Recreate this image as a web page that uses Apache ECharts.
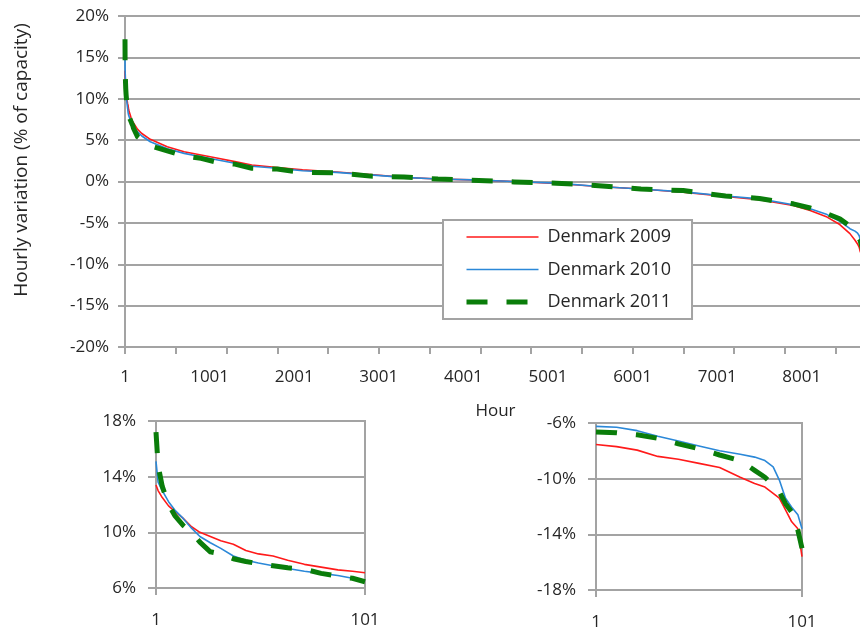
<!DOCTYPE html>
<html><head><meta charset="utf-8">
<script src="https://cdn.jsdelivr.net/npm/echarts@6/dist/echarts.min.js"></script>
<style>html,body{margin:0;padding:0;background:#fff}#c{width:860px;height:627px}</style>
</head><body><div id="c"></div><script>
// ---------------- data ----------------
const seriesNames = ['Denmark 2009', 'Denmark 2010', 'Denmark 2011'];

// first 101 hours of the duration curve (left inset)
const headHours = [1, 2, 4, 7, 10, 14, 18, 22, 27, 32, 38, 44, 50, 57, 64, 72, 80, 88, 95, 101];
const head2009 = [13.4, 13.0, 12.5, 11.9, 11.5, 11.0, 10.4, 10.0, 9.7, 9.4, 9.15, 8.7, 8.45, 8.3, 8.0, 7.7, 7.5, 7.3, 7.2, 7.1];
const head2010 = [15.1, 13.6, 13.0, 12.2, 11.6, 11.0, 10.3, 9.7, 9.25, 8.85, 8.3, 8.0, 7.8, 7.6, 7.4, 7.2, 7.05, 6.9, 6.7, 6.5];
const head2011 = [17.2, 14.8, 13.3, 12.0, 11.2, 10.5, 10.0, 9.3, 8.6, 8.45, 8.1, 7.9, 7.75, 7.6, 7.45, 7.35, 7.05, 6.85, 6.7, 6.45];

// middle of the duration curve (main chart)
const bodyHours = [150, 200, 300, 500, 700, 900, 1100, 1300, 1500, 1800, 2100, 2500, 2900, 3300, 3700, 4100, 4600, 5100, 5600, 6100, 6600, 7100, 7500, 7900, 8100, 8300, 8450, 8570, 8630];
const body2009 = [6.3, 5.8, 5.1, 4.2, 3.6, 3.2, 2.8, 2.4, 2.0, 1.7, 1.4, 1.15, 0.85, 0.5, 0.3, 0.2, 0.0, -0.25, -0.6, -0.9, -1.3, -1.8, -2.2, -2.9, -3.5, -4.3, -5.2, -6.3, -7.1];
const body2010 = [6.0, 5.5, 4.8, 3.95, 3.4, 3.0, 2.6, 2.2, 1.85, 1.6, 1.3, 1.1, 0.8, 0.5, 0.3, 0.2, 0.0, -0.2, -0.6, -0.9, -1.25, -1.75, -2.1, -2.8, -3.3, -4.0, -4.8, -5.7, -6.0];
const body2011 = [5.4, 5.0, 4.3, 3.7, 3.1, 2.8, 2.3, 2.1, 1.6, 1.5, 1.1, 1.05, 0.65, 0.55, 0.3, 0.15, -0.05, -0.2, -0.5, -0.9, -1.1, -1.75, -2.05, -2.7, -3.2, -3.9, -4.5, -5.4, -6.2];

// last 101 hours of the duration curve (right inset), ranked 1..101
const tailRank = [1, 11, 21, 31, 41, 51, 61, 71, 78, 83, 87, 90, 93, 96, 99, 101];
const tail2009 = [-7.55, -7.7, -7.95, -8.4, -8.6, -8.9, -9.2, -9.9, -10.35, -10.6, -11.05, -11.4, -12.25, -13.1, -13.6, -15.6];
const tail2010 = [-6.24, -6.3, -6.55, -6.95, -7.3, -7.65, -8.0, -8.25, -8.45, -8.7, -9.15, -10.1, -11.4, -12.05, -12.6, -13.6];
const tail2011 = [-6.65, -6.7, -6.85, -7.1, -7.5, -7.85, -8.3, -8.7, -9.4, -9.9, -10.45, -10.95, -11.8, -12.4, -13.7, -15.0];
const tailHourOffset = 8659; // tail rank 1 = hour 8660 of 8760
const totalHours = 8760;

// axis ticks / labels
const mainXLabels = [1, 1001, 2001, 3001, 4001, 5001, 6001, 7001, 8001];
const mainXTicks = [1, 601, 1201, 1801, 2401, 3001, 3601, 4201, 4801, 5401, 6001, 6601, 7201, 7801, 8401];
const mainYTicks = [-20, -15, -10, -5, 0, 5, 10, 15, 20];
const headYTicks = [6, 10, 14, 18];
const tailYTicks = [-18, -14, -10, -6];
const insetXTicks = [1, 101];

// ---------------- chart ----------------
const FONT = 'Open Sans';
const TXT = '#262626';
const GRIDC = '#a3a3a3';
const colors = ['#ff1a1a', '#2b88d8', '#0a7d0a'];
const widths = [1.6, 1.6, 5];
const dashes = ['solid', 'solid', [21, 19]];

const zip = (xs, ys) => xs.map((x, i) => [x, ys[i]]);
const heads = [head2009, head2010, head2011];
const bodies = [body2009, body2010, body2011];
const tails = [tail2009, tail2010, tail2011];
const tailHours = tailRank.map(r => r + tailHourOffset);

function yAxisCfg(gi, min, max, ticks, tickLen, margin) {
  return {
    gridIndex: gi, type: 'value', min: min, max: max,
    axisLine: { show: true, lineStyle: { color: GRIDC, width: 2 } },
    axisTick: { show: true, inside: false, length: tickLen, customValues: ticks, lineStyle: { color: GRIDC, width: 2 } },
    axisLabel: { show: true, customValues: ticks, margin: margin, formatter: v => v + '%', color: TXT, fontFamily: FONT, fontSize: 17 },
    splitLine: { show: true, lineStyle: { color: GRIDC, width: 2 } }
  };
}
function xAxisCfg(gi, min, max, labels, ticks, tickLen, margin) {
  return {
    gridIndex: gi, type: 'value', min: min, max: max,
    axisLine: { show: true, onZero: false, lineStyle: { color: GRIDC, width: 2 } },
    axisTick: { show: true, inside: false, length: tickLen, customValues: ticks, lineStyle: { color: GRIDC, width: 2 } },
    axisLabel: { show: true, customValues: labels, margin: margin, formatter: v => String(v), color: TXT, fontFamily: FONT, fontSize: 17, showMinLabel: true, showMaxLabel: true },
    splitLine: { show: false }
  };
}

const series = [];
seriesNames.forEach((name, k) => {
  const base = {
    type: 'line', name: name, color: colors[k], symbol: 'none', showSymbol: false,
    lineStyle: { color: colors[k], width: widths[k], type: dashes[k], cap: 'butt', join: 'round' },
    animation: false, silent: true, clip: true, z: 3 + k
  };
  series.push(Object.assign({}, base, { xAxisIndex: 0, yAxisIndex: 0,
    data: zip(headHours, heads[k]).concat(zip(bodyHours, bodies[k]), zip(tailHours, tails[k])) }));
  series.push(Object.assign({}, base, { xAxisIndex: 1, yAxisIndex: 1, data: zip(headHours, heads[k]) }));
  series.push(Object.assign({}, base, { xAxisIndex: 2, yAxisIndex: 2, data: zip(tailRank, tails[k]) }));
});

const mainY = yAxisCfg(0, -20, 20, mainYTicks, 7, 16);
mainY.name = 'Hourly variation (% of capacity)';
mainY.nameLocation = 'middle';
mainY.nameRotate = 90;
mainY.nameGap = 94;
mainY.nameTextStyle = { color: TXT, fontFamily: FONT, fontSize: 19, padding: [0, 0, 0, 43] };

const mainX = xAxisCfg(0, 1, totalHours, mainXLabels, mainXTicks, 7, 22);
mainX.name = 'Hour';
mainX.nameLocation = 'middle';
mainX.nameGap = 56;
mainX.nameTextStyle = { color: TXT, fontFamily: FONT, fontSize: 17 };

const chart = echarts.init(document.getElementById('c'), null, { renderer: 'canvas' });
chart.setOption({
  backgroundColor: '#ffffff',
  animation: false,
  textStyle: { fontFamily: FONT },
  grid: [
    { left: 125, top: 16, width: 741, height: 331, containLabel: false, outerBoundsMode: 'none' },
    { left: 156, top: 421, width: 209, height: 167, containLabel: false, outerBoundsMode: 'none', show: true, borderColor: GRIDC, borderWidth: 2, backgroundColor: 'transparent' },
    { left: 596, top: 423, width: 206, height: 167, containLabel: false, outerBoundsMode: 'none', show: true, borderColor: GRIDC, borderWidth: 2, backgroundColor: 'transparent' }
  ],
  xAxis: [
    mainX,
    xAxisCfg(1, 1, 101, insetXTicks, insetXTicks, 7, 24),
    xAxisCfg(2, 1, 101, insetXTicks, insetXTicks, 7, 24)
  ],
  yAxis: [
    mainY,
    yAxisCfg(1, 6, 18, headYTicks, 8, 20),
    yAxisCfg(2, -18, -6, tailYTicks, 8, 20)
  ],
  legend: {
    data: seriesNames,
    orient: 'vertical',
    left: 443, top: 220,
    itemWidth: 72, itemHeight: 20, itemGap: 14.5,
    padding: [8, 21, 8, 21],
    backgroundColor: '#ffffff',
    borderColor: GRIDC, borderWidth: 2, borderRadius: 0,
    selectedMode: false,
    itemStyle: { opacity: 0, color: 'transparent', borderWidth: 0 },
    lineStyle: { width: 'inherit', type: 'inherit', opacity: 1 },
    textStyle: { color: TXT, fontFamily: FONT, fontSize: 18, padding: [0, 0, 0, 4] }
  },
  series: series
});
</script></body></html>
